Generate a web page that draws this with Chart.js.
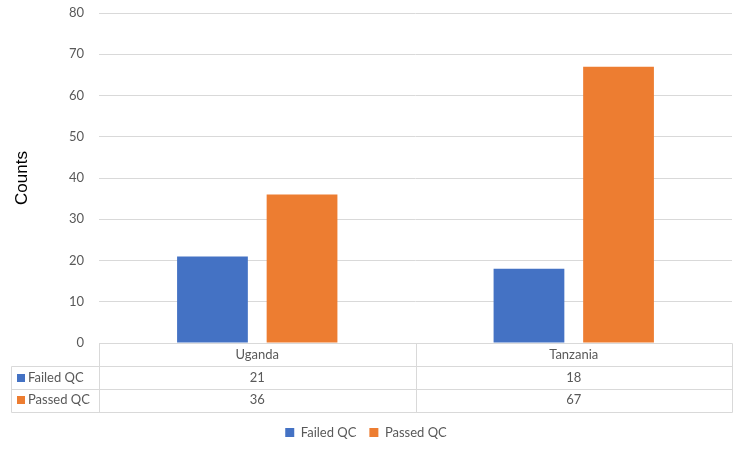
<!DOCTYPE html>
<html>
<head>
<meta charset="utf-8">
<script src="https://cdn.jsdelivr.net/npm/chart.js@4"></script>
<style>
  html, body { margin: 0; padding: 0; background: #fff; }
  #wrap { width: 744px; height: 449px; }
</style>
</head>
<body>
<div id="wrap"><canvas id="chart"></canvas></div>
<script>
const countries = ['Uganda', 'Tanzania'];
const failedQC = [21, 18];
const passedQC = [36, 67];
const seriesNames = ['Failed QC', 'Passed QC'];
const seriesColors = ['#4472C4', '#ED7D31'];
const yMin = 0, yMax = 80, yStep = 10;

const gridColor = '#d9d9d9';
const textColor = '#595959';
const tableFont = '13px Lato, "Liberation Sans", sans-serif';

// data table drawn under the plot, columns follow the x scale
const dataTable = {
    id: 'dataTable',
    afterDraw(chart) {
        const ctx = chart.ctx;
        const x = chart.scales.x;
        const a = chart.chartArea;
        const top = Math.round(a.bottom) + 0.5;
        const rowH = 22.7;
        const left = 11.5;
        const right = Math.round(a.right) + 0.5;
        const plotLeft = Math.round(a.left) + 0.5;
        const rows = [failedQC, passedQC];
        const bottom = top + rowH * (rows.length + 1);

        ctx.save();
        ctx.strokeStyle = gridColor;
        ctx.lineWidth = 1;
        ctx.beginPath();
        ctx.moveTo(plotLeft, top); ctx.lineTo(right, top);
        for (let r = 1; r <= rows.length + 1; r++) {
            const y = Math.round(top + rowH * r) + 0.5;
            ctx.moveTo(left, y); ctx.lineTo(right, y);
        }
        ctx.moveTo(left, Math.round(top + rowH) + 0.5); ctx.lineTo(left, Math.round(bottom) + 0.5);
        ctx.moveTo(plotLeft, top); ctx.lineTo(plotLeft, Math.round(bottom) + 0.5);
        for (let i = 0; i < countries.length; i++) {
            let bx;
            if (i < countries.length - 1) {
                bx = (x.getPixelForValue(i) + x.getPixelForValue(i + 1)) / 2;
            } else {
                bx = a.right;
            }
            bx = Math.round(bx) + 0.5;
            ctx.moveTo(bx, top); ctx.lineTo(bx, Math.round(bottom) + 0.5);
        }
        ctx.stroke();

        ctx.font = tableFont;
        ctx.fillStyle = textColor;
        ctx.textBaseline = 'middle';
        ctx.textAlign = 'center';
        countries.forEach((c, i) => {
            ctx.fillText(c, x.getPixelForValue(i), top + rowH / 2);
        });
        rows.forEach((vals, r) => {
            const cy = top + rowH * (r + 1.5);
            vals.forEach((v, i) => {
                ctx.fillStyle = textColor;
                ctx.textAlign = 'center';
                ctx.fillText(String(v), x.getPixelForValue(i), cy);
            });
            ctx.fillStyle = seriesColors[r];
            ctx.fillRect(17, Math.round(cy - 4), 8, 8);
            ctx.fillStyle = textColor;
            ctx.textAlign = 'left';
            ctx.fillText(seriesNames[r], 28, cy);
        });
        ctx.restore();
    }
};

new Chart(document.getElementById('chart'), {
    type: 'bar',
    data: {
        labels: countries,
        datasets: [
            { label: seriesNames[0], data: failedQC, backgroundColor: seriesColors[0],
              barPercentage: 0.79, categoryPercentage: 0.566 },
            { label: seriesNames[1], data: passedQC, backgroundColor: seriesColors[1],
              barPercentage: 0.79, categoryPercentage: 0.566 }
        ]
    },
    options: {
        responsive: true,
        maintainAspectRatio: false,
        animation: false,
        layout: { padding: { top: 13, right: 12, left: 0, bottom: 0 } },
        plugins: {
            legend: {
                position: 'bottom',
                labels: {
                    boxWidth: 9, boxHeight: 9, padding: 13,
                    color: textColor,
                    font: { family: 'Lato, "Liberation Sans", sans-serif', size: 13 }
                }
            },
            tooltip: { enabled: false }
        },
        scales: {
            x: {
                grid: { display: false, drawTicks: false },
                border: { display: false },
                ticks: { display: false },
                afterFit(scale) { scale.height = 70; }
            },
            y: {
                min: yMin, max: yMax,
                ticks: {
                    stepSize: yStep, padding: 15, color: textColor,
                    font: { family: 'Lato, "Liberation Sans", sans-serif', size: 13 }
                },
                grid: { color: gridColor, drawTicks: false },
                border: { display: false },
                title: {
                    display: true, text: 'Counts', color: '#000',
                    padding: { top: 12, bottom: 0 },
                    font: { family: '"Liberation Sans", Arial, sans-serif', size: 17 }
                },
                afterFit(scale) {
                    scale.width = 99;
                    scale.paddingTop = 0;
                    scale.paddingBottom = 0;
                }
            }
        }
    },
    plugins: [dataTable]
});
</script>
</body>
</html>
